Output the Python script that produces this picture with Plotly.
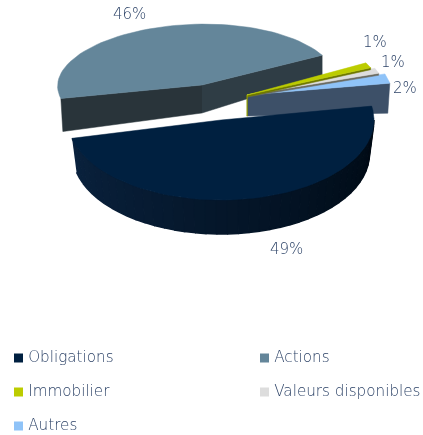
import math
import numpy as np
import plotly.graph_objects as go

categories = ["Obligations", "Actions", "Immobilier", "Valeurs disponibles", "Autres"]
values = [49.1, 45.7, 1.4, 1.4, 2.4]
colors = ["#002040", "#64869A", "#BCCC00", "#DDDDDD", "#8FC3F8"]

START = 10.0
FONT = "DejaVu Sans ExtraLight, DejaVu Sans"
TXT = "#2E4468"
fig = go.Figure()

# slice angles from the values (clockwise, starting at START degrees)
angles = {}
a = START
for c, v in zip(categories, values):
    b = a - v / sum(values) * 360
    angles[c] = (a, b)
    a = b


def rim(a0, a1, cx, cy, rx, ry, n=60):
    t = np.radians(np.linspace(a0, a1, n))
    return cx + rx * np.cos(t), cy - ry * np.sin(t)


def poly(x, y, color, width=0.5):
    fig.add_trace(go.Scatter(x=list(x), y=list(y), mode="lines", fill="toself", fillcolor=color,
                             line=dict(color=color, width=width), hoverinfo="skip", showlegend=False))


def wedge(a0, a1, cx, cy, rx, ry, color):
    x, y = rim(a0, a1, cx, cy, rx, ry)
    poly(np.r_[cx, x, cx], np.r_[cy, y, cy], color)


# Actions: the far (right) part of the rim is foreshortened
a0, a1 = angles["Actions"]
cx, cy = 202, 85
rx_a, ry_a = np.linspace(145, 137, 60), np.linspace(59, 62, 60)
x, y = rim(a0, a1, cx, cy, rx_a, ry_a)
poly([cx, x[0], x[0] + 2, cx], [cy, y[0], y[0] + 33, cy + 28], "#29343A")
poly([cx, x[-1], x[-1], cx], [cy, y[-1], y[-1] + 20, cy + 28], "#2F3D45")
poly(np.r_[cx, x, cx], np.r_[cy, y, cy], colors[1])

# small slices
cx, cy, rx, ry = 247, 95, 145, 68
a0, a1 = angles["Autres"]
ex, ey = rim(a1, a1, cx, cy, rx, ry, 1)
poly([cx, ex[0], ex[0] - 2, cx], [cy, ey[0], ey[0] + 30, cy + 21], "#3D5068")
wedge(*angles["Autres"], cx, cy, rx, ry, colors[4])
a0, a1 = angles["Valeurs disponibles"]
ex, ey = rim(a1, a1, cx, cy, rx - 6, ry, 1)
poly([cx, ex[0], ex[0], cx], [cy, ey[0], ey[0] + 2, cy + 2], "#6B6B60")
wedge(a0, a1, cx, cy, rx - 6, ry, colors[3])
a0, a1 = angles["Immobilier"]
ex, ey = rim(a1, a1, cx, cy, rx - 10, ry, 1)
poly([cx, ex[0], ex[0], cx], [cy, ey[0], ey[0] + 2, cy + 2], "#6F7800")
poly([cx - 0.5, cx + 0.5, cx + 0.5, cx - 0.5], [cy, cy, cy + 21, cy + 21], "#8F9A00")
wedge(a0, a1, cx, cy, rx - 10, ry, colors[2])

# Obligations
a0, a1 = angles["Obligations"]
cx, cy, rx, ry = 221, 120, 153, 80
D = 34
strip_a = np.linspace(a1, 0, 41)
c0, c1 = np.array([10, 34, 62]), np.array([0, 10, 20])
for i in range(40):
    x, y = rim(strip_a[i], strip_a[i + 1], cx, cy, rx, ry, 5)
    xb, yb = rim(strip_a[i + 1], strip_a[i], cx, cy, rx * 0.97, ry, 5)
    f = i / 39
    col = "rgb(%d,%d,%d)" % tuple(c0 + (c1 - c0) * f)
    poly(np.r_[x, xb], np.r_[y, yb + D], col, width=1.5)
wedge(a0, a1, cx, cy, rx, ry, colors[0])

# percentage labels, computed from the values
label_pos = {"Obligations": (286, 249), "Actions": (129, 14), "Immobilier": (375, 42),
             "Valeurs disponibles": (393, 62), "Autres": (405, 88)}
for c, v in zip(categories, values):
    px, py = label_pos[c]
    fig.add_annotation(x=px, y=py, text=f"{round(v)}%", showarrow=False,
                       font=dict(family=FONT, size=15, color=TXT, weight=200))

# legend
legend_pos = [(14, 358), (260, 358), (14, 392), (260, 392), (14, 426)]
for c, col, (px, py) in zip(categories, colors, legend_pos):
    fig.add_trace(go.Scatter(x=[px + 4.5], y=[py], mode="markers+text", text=["\u2009" + c], textposition="middle right",
                             marker=dict(symbol="square", size=9, color=col, line=dict(width=0)),
                             textfont=dict(family=FONT, size=15.2, color=TXT, weight=200),
                             hoverinfo="skip", showlegend=False, cliponaxis=False))

fig.update_xaxes(range=[0, 423], visible=False)
fig.update_yaxes(range=[435, 0], visible=False)
fig.update_layout(width=423, height=435, margin=dict(l=0, r=0, t=0, b=0), showlegend=False,
                  paper_bgcolor="white", plot_bgcolor="white")
fig.write_html("out.html", config={"displayModeBar": False},
               post_script="document.body.style.margin='0';"
                           "document.querySelectorAll('.main-svg').forEach(s=>s.style.willChange='transform');")
